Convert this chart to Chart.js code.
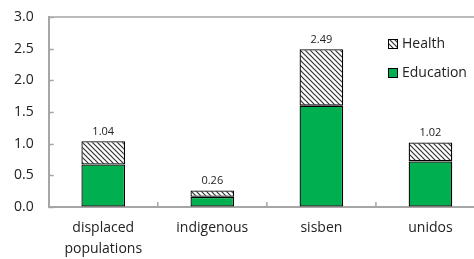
<!DOCTYPE html>
<html>
<head>
<meta charset="utf-8">
<script src="https://cdn.jsdelivr.net/npm/chart.js@4.4.1/dist/chart.umd.min.js"></script>
<style>
  html, body { margin: 0; padding: 0; background: #fff; overflow: hidden; }
</style>
</head>
<body>
<canvas id="chart" width="490" height="259"></canvas>
<script>
const categories = [['displaced', 'populations'], 'indigenous', 'sisben', 'unidos'];
const education = [0.67, 0.16, 1.60, 0.72];
const health = [0.37, 0.10, 0.89, 0.30];
const totals = [1.04, 0.26, 2.49, 1.02];
const yTicks = [0, 0.5, 1.0, 1.5, 2.0, 2.5, 3.0];

const FONT = "'Open Sans', 'Noto Sans', sans-serif";
const AXIS_GREY = '#a6a6a6';

function makeHatch() {
    const c = document.createElement('canvas');
    c.width = 5; c.height = 5;
    const g = c.getContext('2d');
    g.fillStyle = '#fff';
    g.fillRect(0, 0, 5, 5);
    g.strokeStyle = '#333';
    g.lineWidth = 1.2;
    g.beginPath();
    g.moveTo(-1, -1); g.lineTo(6, 6);
    g.moveTo(-1, 4); g.lineTo(1, 6);
    g.moveTo(4, -1); g.lineTo(6, 1);
    g.stroke();
    return g.createPattern(c, 'repeat');
}
const hatch = makeHatch();

const extras = {
    id: 'extras',
    afterDatasetsDraw(chart) {
        const ctx = chart.ctx;
        const area = chart.chartArea;
        const x = chart.scales.x;
        const y = chart.scales.y;
        ctx.save();
        // frame: top line and inner ticks
        ctx.strokeStyle = AXIS_GREY;
        ctx.lineWidth = 1.5;
        ctx.beginPath();
        ctx.moveTo(area.left, area.top);
        ctx.lineTo(area.right, area.top);
        yTicks.forEach(v => {
            const py = Math.round(y.getPixelForValue(v)) + 0.5;
            ctx.moveTo(area.left, py);
            ctx.lineTo(area.left + 5, py);
        });
        for (let i = 1; i < categories.length; i++) {
            const px = (x.getPixelForValue(i - 1) + x.getPixelForValue(i)) / 2;
            ctx.moveTo(px, area.bottom);
            ctx.lineTo(px, area.bottom - 5);
        }
        ctx.stroke();

        // totals above bars
        ctx.fillStyle = '#222';
        ctx.font = '11px ' + FONT;
        ctx.textAlign = 'center';
        ctx.textBaseline = 'bottom';
        totals.forEach((t, i) => {
            ctx.fillText(t.toFixed(2), x.getPixelForValue(i), y.getPixelForValue(t) - 4);
        });

        // legend inside plot
        const items = [
            { label: 'Health', fill: hatch, y: 44 },
            { label: 'Education', fill: '#00b050', y: 73 }
        ];
        ctx.font = '14px ' + FONT;
        ctx.textAlign = 'left';
        ctx.textBaseline = 'middle';
        items.forEach(it => {
            ctx.fillStyle = it.fill;
            ctx.fillRect(388, it.y - 5, 10, 10);
            ctx.strokeStyle = '#000';
            ctx.lineWidth = 1;
            ctx.strokeRect(388.5, it.y - 4.5, 9, 9);
            ctx.fillStyle = '#222';
            ctx.fillText(it.label, 402, it.y);
        });
        ctx.restore();
    }
};

new Chart(document.getElementById('chart'), {
    type: 'bar',
    data: {
        labels: categories,
        datasets: [
            {
                label: 'Education',
                data: education,
                backgroundColor: '#00b050',
                borderColor: '#000',
                borderWidth: 1.3,
                borderSkipped: false,
                barPercentage: 0.8,
                categoryPercentage: 0.5
            },
            {
                label: 'Health',
                data: health,
                backgroundColor: hatch,
                borderColor: '#000',
                borderWidth: 1.3,
                borderSkipped: false,
                barPercentage: 0.8,
                categoryPercentage: 0.5
            }
        ]
    },
    options: {
        responsive: false,
        animation: false,
        devicePixelRatio: 1,
        layout: { padding: { top: 17, left: 14, right: 5, bottom: 0 } },
        plugins: {
            legend: { display: false },
            tooltip: { enabled: false }
        },
        scales: {
            x: {
                stacked: true,
                afterFit: s => { s.height = 52; },
                grid: { display: false, drawTicks: false },
                border: { display: true, color: AXIS_GREY, width: 2 },
                ticks: {
                    color: '#222',
                    font: { family: FONT, size: 14, lineHeight: 1.5 },
                    padding: 11,
                    maxRotation: 0,
                    autoSkip: false
                }
            },
            y: {
                stacked: true,
                min: 0,
                max: 3,
                afterBuildTicks: axis => { axis.ticks = yTicks.map(v => ({ value: v })); },
                grid: { drawOnChartArea: false, drawTicks: true, tickLength: 15, tickColor: 'rgba(0,0,0,0)' },
                border: { display: true, color: AXIS_GREY, width: 2 },
                ticks: {
                    color: '#222',
                    font: { family: FONT, size: 14 },
                    padding: 0,
                    callback: v => v.toFixed(1)
                }
            }
        }
    },
    plugins: [extras]
});
</script>
</body>
</html>
